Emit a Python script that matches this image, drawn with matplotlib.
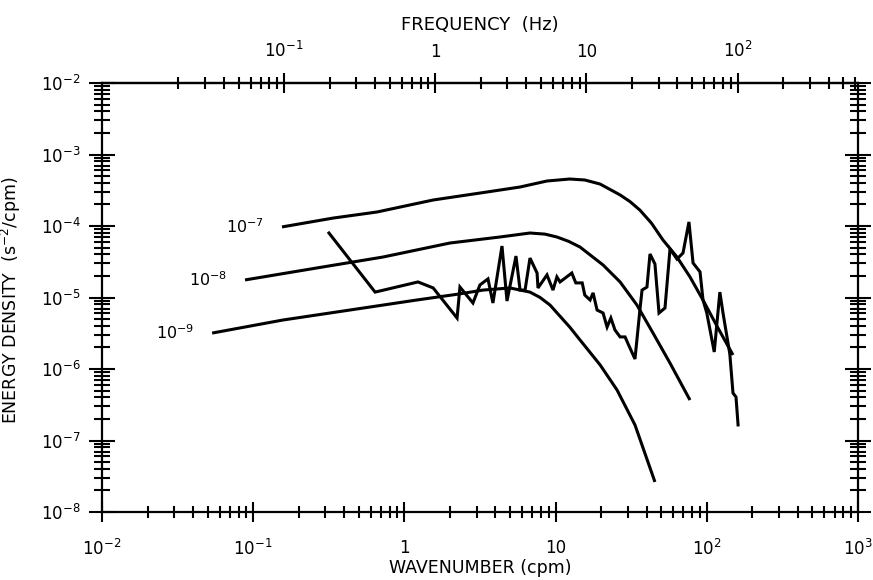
import matplotlib
matplotlib.use("Agg")
import matplotlib.pyplot as plt
from matplotlib.ticker import FixedLocator, NullFormatter, FixedFormatter

# ---------------- data ----------------
# Model spectra, labelled by dissipation rate
k_e7 = [0.155, 0.337, 0.659, 1.55, 3.52, 5.82, 8.77, 12.4, 15.6, 19.7, 26.7,
        31.0, 36.1, 43.0, 51.3, 63.5, 77.4, 94.4, 118.6, 149]
E_e7 = [9.7e-5, 1.29e-4, 1.57e-4, 2.31e-4, 2.99e-4, 3.51e-4, 4.26e-4, 4.54e-4,
        4.40e-4, 3.86e-4, 2.72e-4, 2.20e-4, 1.67e-4, 1.10e-4, 6.37e-5, 3.68e-5,
        1.94e-5, 9.2e-6, 3.74e-6, 1.57e-6]

k_e8 = [0.0883, 0.264, 0.721, 2.00, 4.29, 6.77, 8.5, 10.2, 12.2, 14.5, 20.6,
        26.7, 34.5, 44.1, 57.1, 77.4]
E_e8 = [1.76e-5, 2.59e-5, 3.68e-5, 5.78e-5, 7.02e-5, 7.98e-5, 7.70e-5, 7.02e-5,
        6.10e-5, 5.08e-5, 2.85e-5, 1.65e-5, 7.85e-6, 3.18e-6, 1.21e-6, 3.68e-7]

k_e9 = [0.0535, 0.157, 0.436, 1.21, 2.30, 3.31, 4.99, 6.77, 7.90, 9.18, 12.4,
        14.5, 19.7, 25.5, 33.5, 45.4]
E_e9 = [3.18e-6, 4.84e-6, 6.68e-6, 9.23e-6, 1.12e-5, 1.27e-5, 1.36e-5, 1.19e-5,
        1.00e-5, 7.85e-6, 3.86e-6, 2.55e-6, 1.14e-6, 5.08e-7, 1.65e-7, 2.63e-8]

model_labels = ["$10^{-7}$", "$10^{-8}$", "$10^{-9}$"]

# Observed spectrum
k_obs = [0.317, 0.640, 1.23, 1.55, 2.23, 2.33, 2.84, 3.16, 3.57, 3.85, 4.42,
         4.77, 5.47, 5.82, 6.28, 6.77, 7.54, 7.65, 8.77, 9.61, 10.2, 10.7,
         12.8, 13.6, 15.0, 15.6, 16.9, 17.7, 18.8, 20.6, 21.9, 23.2, 24.7,
         26.7, 28.8, 30.6, 33.5, 36.1, 37.3, 40.2, 42.1, 45.4, 48.3, 52.9,
         57.1, 63.5, 69.6, 76.2, 81.1, 90.2, 94.4, 100, 112, 122, 128, 142,
         149, 156, 161]
E_obs = [7.98e-5, 1.19e-5, 1.65e-5, 1.36e-5, 5.16e-6, 1.40e-5, 8.38e-6, 1.50e-5,
         1.82e-5, 8.38e-6, 5.25e-5, 8.93e-6, 3.80e-5, 1.27e-5, 1.27e-5, 3.56e-5,
         2.20e-5, 1.36e-5, 2.07e-5, 1.27e-5, 1.94e-5, 1.65e-5, 2.20e-5, 1.60e-5,
         1.60e-5, 1.08e-5, 9.23e-6, 1.16e-5, 6.68e-6, 6.07e-6, 3.86e-6, 5.16e-6,
         3.51e-6, 2.81e-6, 2.81e-6, 2.10e-6, 1.38e-6, 6.68e-6, 1.27e-5, 1.40e-5,
         4.06e-5, 2.94e-5, 6.07e-6, 7.13e-6, 4.76e-5, 3.45e-5, 4.19e-5, 1.14e-4,
         3.04e-5, 2.28e-5, 9.23e-6, 6.07e-6, 1.73e-6, 1.19e-5, 6.07e-6, 1.62e-6,
         4.61e-7, 4.06e-7, 1.65e-7]

# Axis ticks
x_major = [1e-2, 1e-1, 1, 10, 1e2, 1e3]
x_major_labels = ["$10^{-2}$", "$10^{-1}$", "1", "10", "$10^{2}$", "$10^{3}$"]
y_major = [1e-8, 1e-7, 1e-6, 1e-5, 1e-4, 1e-3, 1e-2]
y_major_labels = ["$10^{-8}$", "$10^{-7}$", "$10^{-6}$", "$10^{-5}$",
                  "$10^{-4}$", "$10^{-3}$", "$10^{-2}$"]
f_major = [0.1, 1, 10, 100]
f_major_labels = ["$10^{-1}$", "1", "10", "$10^{2}$"]
CPM_PER_HZ = 1.6   # wavenumber (cpm) corresponding to 1 Hz

# ---------------- figure ----------------
plt.rcParams['font.family'] = ['DejaVu Sans']
plt.rcParams['mathtext.fontset'] = 'dejavusans'
plt.rcParams['mathtext.default'] = 'regular'

fig = plt.figure(figsize=(8.73, 5.80), dpi=100)
ax = fig.add_axes([102/873, 1-512/580, (858-102)/873, (512-83)/580])
ax.set_xscale('log')
ax.set_yscale('log')
ax.set_xlim(1e-2, 1e3)
ax.set_ylim(1e-8, 1e-2)

lw = 2.2
for k, E, lab in zip([k_e7, k_e8, k_e9], [E_e7, E_e8, E_e9], model_labels):
    ax.plot(k, E, color='black', lw=lw, solid_capstyle='butt',
            solid_joinstyle='round')
    ax.annotate(lab, xy=(k[0], E[0]), xytext=(-13, 0), textcoords='offset points',
                ha='right', va='center', fontsize=11.5)
ax.plot(k_obs, E_obs, color='black', lw=lw, solid_joinstyle='miter')

for s in ax.spines.values():
    s.set_linewidth(1.6)

# x ticks
ax.xaxis.set_major_locator(FixedLocator(x_major))
ax.xaxis.set_major_formatter(FixedFormatter(x_major_labels))
xminor = [m * 10.0**d for d in range(-2, 3) for m in range(2, 10)]
ax.xaxis.set_minor_locator(FixedLocator(xminor))
ax.xaxis.set_minor_formatter(NullFormatter())

yminor = [m * 10.0**d for d in range(-8, -2) for m in range(2, 10)]
ax.yaxis.set_major_locator(FixedLocator(y_major))
ax.yaxis.set_major_formatter(FixedFormatter(y_major_labels))
ax.yaxis.set_minor_locator(FixedLocator(yminor))
ax.yaxis.set_minor_formatter(NullFormatter())

ax.tick_params(which='both', top=False, right=True, labelright=False,
               direction='inout', width=1.5)
ax.tick_params(axis='x', which='major', length=15, labelsize=12, pad=12)
ax.tick_params(axis='x', which='minor', length=9)
ax.tick_params(axis='y', which='major', length=19, labelsize=12, pad=6)
ax.tick_params(axis='y', which='minor', length=11)

# top frequency axis
sec = ax.secondary_xaxis('top', functions=(lambda k: k / CPM_PER_HZ,
                                           lambda f: f * CPM_PER_HZ))
sec.xaxis.set_major_locator(FixedLocator(f_major))
sec.xaxis.set_major_formatter(FixedFormatter(f_major_labels))
fminor = ([m * 0.01 for m in range(2, 10)] + [m * 0.1 for m in range(2, 10)] +
          [m * 1.0 for m in range(2, 10)] + [m * 10.0 for m in range(2, 10)] +
          [m * 100.0 for m in range(2, 7)])
sec.xaxis.set_minor_locator(FixedLocator(fminor))
sec.xaxis.set_minor_formatter(NullFormatter())
sec.tick_params(which='major', direction='inout', length=15, width=1.5,
                labelsize=12, pad=8)
sec.tick_params(which='minor', direction='inout', length=9, width=1.5)
sec.spines['top'].set_linewidth(1.6)
sec.set_xlabel("FREQUENCY  (Hz)", fontsize=13, labelpad=8)

ax.set_xlabel("WAVENUMBER (cpm)", fontsize=12.5, labelpad=0)
ax.set_ylabel("ENERGY DENSITY  (s$^{-2}$/cpm)", fontsize=12.5)
ax.yaxis.set_label_coords(-0.104, 0.494)

fig.savefig("out.png", dpi=100)
